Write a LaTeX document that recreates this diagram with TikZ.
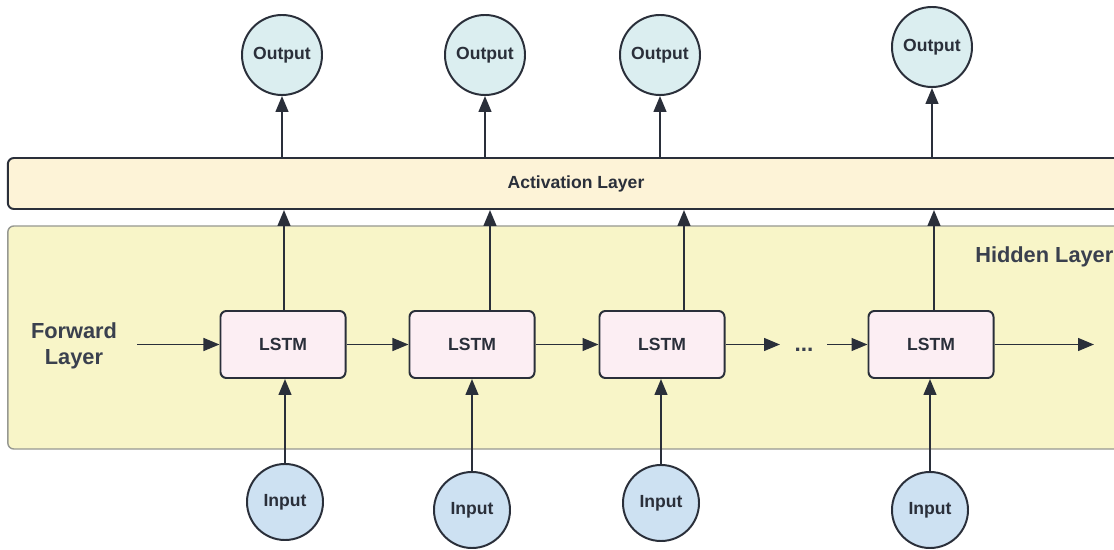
\documentclass[tikz,border=0pt]{standalone}
\usepackage{fontspec}
\setmainfont{Liberation Sans}
\usetikzlibrary{positioning, arrows.meta, calc}
\definecolor{tinta}{RGB}{42, 47, 58}
\definecolor{gris}{RGB}{58, 64, 78}
\definecolor{aguaclaro}{RGB}{219, 238, 240}
\definecolor{azulclaro}{RGB}{205, 225, 242}
\definecolor{rosa}{RGB}{252, 238, 243}
\definecolor{crema}{RGB}{253, 243, 215}
\definecolor{amarillo}{RGB}{248, 245, 200}
\definecolor{bordegris}{RGB}{150, 152, 145}
\tikzset{
    outc/.style={draw=tinta, circle, fill=aguaclaro, line width=1.4pt, minimum size=2cm, inner sep=0pt, text=tinta, font=\fontsize{12.5}{14}\selectfont\bfseries},
    inc/.style={draw=tinta, circle, fill=azulclaro, line width=1.4pt, minimum size=1.9cm, inner sep=0pt, text=tinta, font=\fontsize{12.5}{14}\selectfont\bfseries},
    lstm/.style={draw=tinta, rectangle, rounded corners=0.15cm, fill=rosa, line width=1.4pt, minimum width=3.125cm, minimum height=1.675cm, text=tinta, font=\fontsize{12.5}{14}\selectfont\bfseries},
    layer/.style={rectangle, rounded corners=0.15cm, inner sep=0pt, text=tinta, font=\fontsize{12.5}{14}\selectfont\bfseries},
    lbl/.style={inner sep=0pt, text=gris, font=\fontsize{15.5}{19}\selectfont\bfseries},
    conn/.style={-{Triangle[length=0.4cm, width=0.32cm]}, tinta, line width=1.4pt},
}
\begin{document}
\begin{tikzpicture}[x=0.025cm, y=-0.025cm]
        \useasboundingbox (0,0) rectangle (1114,550);
        \clip (0,0) rectangle (1114,550);

        \node [layer, fill=amarillo, draw=bordegris, line width=1pt, minimum width=28.55cm, minimum height=5.575cm] (hid) at (579,337.5) {};
        \node [layer, fill=crema, draw=tinta, line width=1.4pt, minimum width=28.4cm, minimum height=1.275cm] (act) at (576,183.5) {Activation Layer};

        \node [lbl, anchor=base west] (hl) at (975,263) {Hidden Layer};
        \node [lbl, anchor=north, align=center] (fl) at (74,322) {Forward\\Layer};

        \node [outc] (o1) at (282,55) {Output};
        \node [outc] (o2) at (485,55) {Output};
        \node [outc] (o3) at (660,55) {Output};
        \node [outc] (o4) at (932,47) {Output};

        \node [lstm] (l1) at (283,344.5) {LSTM};
        \node [lstm] (l2) at (472,344.5) {LSTM};
        \node [lstm] (l3) at (662,344.5) {LSTM};
        \node [lstm] (l4) at (931,344.5) {LSTM};
        \node [text=gris, font=\fontsize{16}{18}\selectfont\bfseries] (dots) at (804,350) {...};

        \node [inc] (i1) at (285,502) {Input};
        \node [inc] (i2) at (472,510) {Input};
        \node [inc] (i3) at (661,503) {Input};
        \node [inc] (i4) at (930,510) {Input};

        \coordinate (fin) at (137,344.5);
        \coordinate (d1) at (780,344.5);
        \coordinate (d2) at (827,344.5);
        \coordinate (fout) at (1094,344.5);
        \coordinate (t1) at ($(l1.north)+(1,0)$);
        \coordinate (t2) at ($(l2.north)+(18,0)$);
        \coordinate (t3) at ($(l3.north)+(22,0)$);
        \coordinate (t4) at ($(l4.north)+(3,0)$);

        \draw [conn] (fin) -- (l1);
        \draw [conn] (l1) -- (l2);
        \draw [conn] (l2) -- (l3);
        \draw [conn] (l3) -- (d1);
        \draw [conn] (d2) -- (l4);
        \draw [conn] (l4) -- (fout);

        \draw [conn] (i1) -- (i1 |- l1.south);
        \draw [conn] (i2) -- (i2 |- l2.south);
        \draw [conn] (i3) -- (i3 |- l3.south);
        \draw [conn] (i4) -- (i4 |- l4.south);

        \draw [conn] (t1) -- (t1 |- act.south);
        \draw [conn] (t2) -- (t2 |- act.south);
        \draw [conn] (t3) -- (t3 |- act.south);
        \draw [conn] (t4) -- (t4 |- act.south);

        \draw [conn] (act.north -| o1) -- (o1);
        \draw [conn] (act.north -| o2) -- (o2);
        \draw [conn] (act.north -| o3) -- (o3);
        \draw [conn] (act.north -| o4) -- (o4);
    \end{tikzpicture}
\end{document}
